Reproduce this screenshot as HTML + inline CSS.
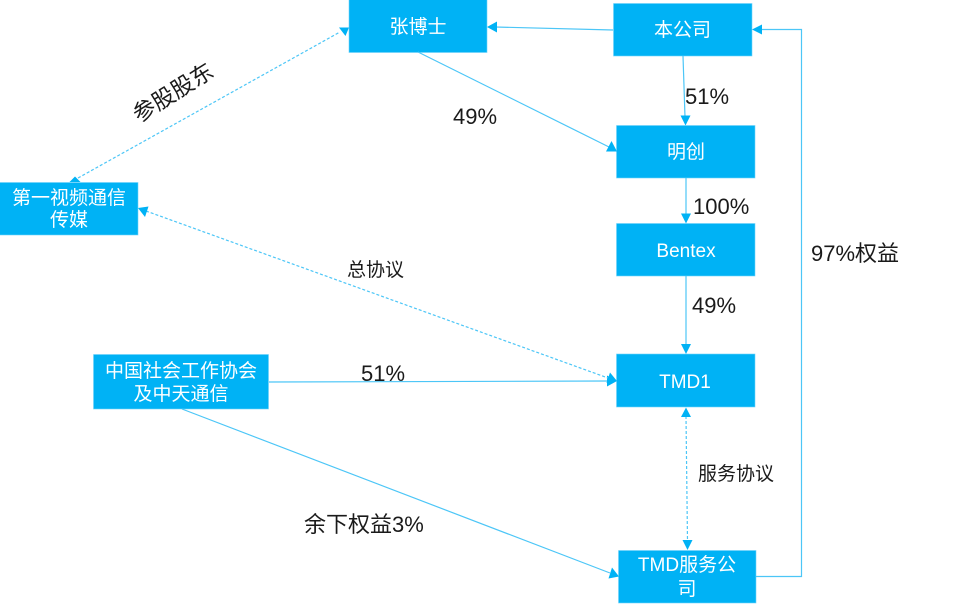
<!DOCTYPE html>
<html>
<head>
<meta charset="utf-8">
<style>
html,body{margin:0;padding:0;background:#fff;}
svg{display:block;}
text{font-family:"Liberation Sans","Noto Sans CJK SC",sans-serif;}
.n{fill:#fff;font-size:19px;text-anchor:middle;}
.l{fill:#1a1a1a;font-size:22px;}
.s{fill:#1a1a1a;font-size:19px;}
.c{fill:none;stroke:#4cc6f7;stroke-width:1.2;}
.d{stroke-dasharray:3 2;}
.a{fill:#00b2f5;}
rect{fill:#00b2f5;stroke:#6fd3fa;stroke-width:0.6;}
</style>
</head>
<body>
<svg width="967" height="611" viewBox="0 0 967 611" xmlns="http://www.w3.org/2000/svg">
<rect x="349" y="-2" width="138" height="54.500"/>
<rect x="613.500" y="3.500" width="138.500" height="52.500"/>
<rect x="616.500" y="125.500" width="138.500" height="52.500"/>
<rect x="616.500" y="223.500" width="138.500" height="52.500"/>
<rect x="616.500" y="354" width="138.500" height="53"/>
<rect x="618.500" y="550.500" width="137.500" height="52.500"/>
<rect x="-2" y="182.500" width="140" height="52.500"/>
<rect x="93.500" y="354.500" width="175" height="54.500"/>

<path class="c" d="M613 30 L495 27"/>
<polygon class="a" points="487,27 497,21.500 497,32.500"/>
<path class="c" d="M418 52 L609 147"/>
<polygon class="a" points="617,151.500 606,151.500 611.500,141"/>
<path class="c" d="M683 56 L685 117"/>
<polygon class="a" points="685.500,125.500 680.500,115.500 690.500,115.500"/>
<path class="c" d="M686 178 L686 215"/>
<polygon class="a" points="686,223.500 681,213.500 691,213.500"/>
<path class="c" d="M686 276 L686 346"/>
<polygon class="a" points="686,354 681,344 691,344"/>
<path class="c" d="M269 382 L608 381"/>
<polygon class="a" points="617,381 607,375.500 607,386.500"/>
<path class="c" d="M182 409 L610 573"/>
<polygon class="a" points="619,576.500 608.500,578.500 612,567.500"/>
<path class="c" d="M756 576.500 L801.500 576.500 L801.500 29.500 L760 29.500"/>
<polygon class="a" points="752,29.500 762,24.500 762,34.500"/>
<path class="c d" d="M78 178 L340 32"/>
<polygon class="a" points="349,27.500 345.500,36 339,27.500"/>
<polygon class="a" points="75,176.500 80.500,182 69.500,182"/>
<path class="c d" d="M146 211 L608 378"/>
<polygon class="a" points="138,208 148.500,206.500 145,217"/>
<polygon class="a" points="617,381 606.500,383 610,372.500"/>
<path class="c d" d="M686 416 L687.500 541"/>
<polygon class="a" points="686,407.500 691,417 681,417"/>
<polygon class="a" points="687.500,550 682.500,540 692.500,540"/>

<text class="n" x="418" y="33">张博士</text>
<text class="n" x="682.500" y="36">本公司</text>
<text class="n" x="686" y="158">明创</text>
<text class="n" x="686" y="257">Bentex</text>
<text class="n" x="685" y="388">TMD1</text>
<text class="n" x="687" y="571">TMD服务公</text>
<text class="n" x="687" y="595">司</text>
<text class="n" x="69" y="204">第一视频通信</text>
<text class="n" x="69" y="226">传媒</text>
<text class="n" x="181" y="377">中国社会工作协会</text>
<text class="n" x="181" y="400">及中天通信</text>

<text class="l" x="453" y="124">49%</text>
<text class="l" x="685" y="104">51%</text>
<text class="l" x="693" y="214">100%</text>
<text class="l" x="692" y="313">49%</text>
<text class="l" x="361" y="381">51%</text>
<text class="l" x="811" y="261">97%权益</text>
<text class="l" x="304" y="532">余下权益3%</text>
<text class="s" x="347" y="276">总协议</text>
<text class="s" x="698" y="480">服务协议</text>
<text class="l" x="0" y="0" transform="translate(139 123) rotate(-32)" style="font-size:22.500px">参股股东</text>
</svg>
</body>
</html>
